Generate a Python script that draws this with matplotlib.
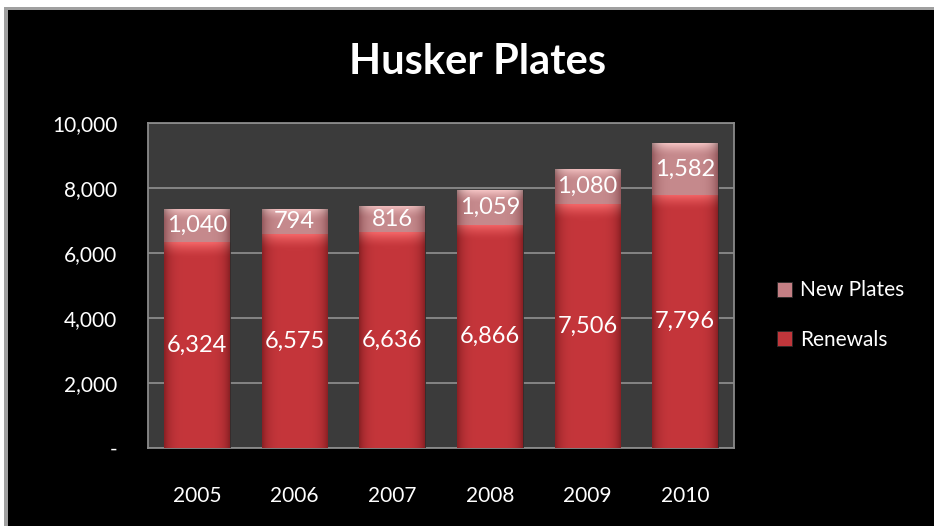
import matplotlib
matplotlib.use("Agg")
import matplotlib.pyplot as plt
import numpy as np
from matplotlib.patches import Rectangle

plt.rcParams['font.family'] = ['Lato', 'DejaVu Sans']

years = ['2005', '2006', '2007', '2008', '2009', '2010']
renewals = [6324, 6575, 6636, 6866, 7506, 7796]
new_plates = [1040, 794, 816, 1059, 1080, 1582]
yticks = [0, 2000, 4000, 6000, 8000, 10000]
ytick_labels = ['-', '2,000', '4,000', '6,000', '8,000', '10,000']

W, H = 934, 526
fig = plt.figure(figsize=(W / 100, H / 100), dpi=100)
fig.patch.set_facecolor('white')
# shadow + black chart background
fig.patches.append(Rectangle((4 / W, 0), 1, 1 - 7 / H, transform=fig.transFigure,
                             facecolor='#a0a0a0', edgecolor='none', zorder=-20))
fig.patches.append(Rectangle((8 / W, 0), 1, 1 - 10 / H, transform=fig.transFigure,
                             facecolor='black', edgecolor='none', zorder=-10))

ax = fig.add_axes([148 / W, (H - 448) / H, (734 - 148) / W, (448 - 123) / H])
ax.set_zorder(1)
ax.set_facecolor('#3b3b3b')
x = np.arange(len(years))
bw = 0.67

b1 = ax.bar(x, renewals, bw, color='#c0363b', label='Renewals', zorder=3)
b2 = ax.bar(x, new_plates, bw, bottom=renewals, color='#c47f84', label='New Plates', zorder=3)

to_rgb = matplotlib.colors.to_rgb


def make_img(mid, edge, top, bevel_frac, n=120):
    xs = np.linspace(-1, 1, n)
    prof = (np.abs(xs) ** 5)[None, :, None]
    mid = np.array(to_rgb(mid))[None, None, :]
    edge = np.array(to_rgb(edge))[None, None, :]
    top = np.array(to_rgb(top))[None, None, :]
    base = mid * (1 - prof) + edge * prof
    ys = np.linspace(0, 1, n)[:, None, None]  # 0 bottom, 1 top
    t = np.clip((ys - (1 - bevel_frac)) / bevel_frac, 0, 1)
    t = t ** 1.5
    img = base * (1 - t) + (top * (1 - 0.35 * prof)) * t
    return np.clip(img, 0, 1)


def apply_grad(bars, mid, edge, top, bevel):
    for p in bars:
        x0, y0 = p.get_x(), p.get_y()
        w, h = p.get_width(), p.get_height()
        img = make_img(mid, edge, top, min(bevel / h, 0.6))
        im = ax.imshow(img, extent=(x0, x0 + w, y0, y0 + h), aspect='auto',
                       zorder=3.5, origin='lower', interpolation='bilinear')
        im.set_clip_path(p)
        p.set_edgecolor('#2a2a2a')
        p.set_linewidth(0.6)


apply_grad(b1, '#c5363b', '#8a2024', '#f26466', 450)
apply_grad(b2, '#c68a8d', '#94585c', '#f5c4c4', 380)

ax.set_xlim(-0.5, len(years) - 0.5)
ax.set_ylim(0, 10000)
ax.set_yticks(yticks)
ax.set_yticklabels(ytick_labels)
ax.set_xticks(x)
ax.set_xticklabels(years)
ax.tick_params(axis='x', length=0, pad=27, labelsize=15, colors='white')
ax.tick_params(axis='y', length=0, pad=22, labelsize=15, colors='white')
ax.grid(axis='y', color='#8a8a8a', linewidth=1.3, zorder=1)
ax.set_axisbelow(True)
for s in ax.spines.values():
    s.set_color('#8a8a8a')
    s.set_linewidth(1.3)

ax.bar_label(b1, labels=[f'{v:,}' for v in renewals], label_type='center',
             color='white', fontsize=17, zorder=5)
ax.bar_label(b2, labels=[f'{v:,}' for v in new_plates], label_type='center',
             color='white', fontsize=17, zorder=5)

fig.text(478 / W, 1 - 62 / H, 'Husker Plates', ha='center', va='center',
         color='white', fontsize=30, fontweight='bold')

handles = [b2, b1]
leg = fig.legend(handles, ['New Plates', 'Renewals'], loc='center left',
                 bbox_to_anchor=(758 / W, 1 - 315 / H), frameon=False,
                 labelcolor='white', fontsize=15, handlelength=0.75, handleheight=0.75,
                 handletextpad=0.35, labelspacing=1.4)

fig.savefig('out.png', dpi=100, facecolor=fig.get_facecolor())
